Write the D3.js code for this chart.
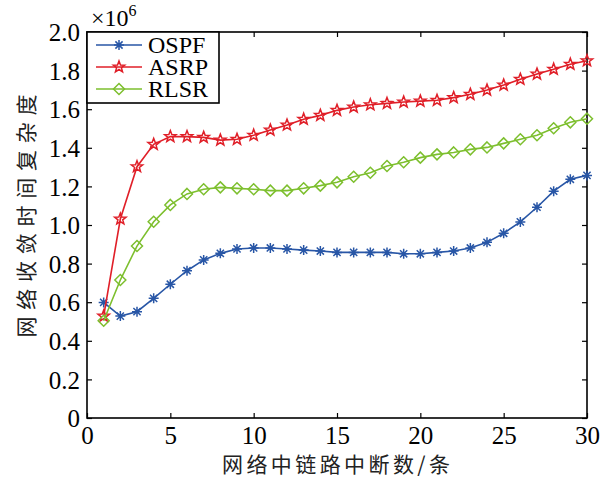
<!DOCTYPE html>
<html><head><meta charset="utf-8">
<script src="https://cdn.jsdelivr.net/npm/d3@7"></script>
<style>html,body{margin:0;padding:0;background:#fff;}svg{display:block;}</style>
</head><body>
<svg id="chart" width="610" height="479"></svg>
<script>
const xs = d3.range(1, 31);
const ospf = [0.599,0.528,0.551,0.620,0.693,0.763,0.819,0.853,0.876,0.881,0.881,0.876,0.870,0.865,0.858,0.858,0.858,0.858,0.851,0.851,0.858,0.865,0.881,0.910,0.957,1.016,1.092,1.175,1.237,1.257];
const asrp = [0.528,1.031,1.302,1.418,1.458,1.458,1.454,1.440,1.444,1.465,1.492,1.518,1.548,1.568,1.594,1.611,1.623,1.630,1.637,1.642,1.646,1.660,1.677,1.699,1.725,1.755,1.782,1.807,1.833,1.851];
const rlsr = [0.504,0.715,0.891,1.017,1.104,1.161,1.185,1.195,1.190,1.185,1.178,1.178,1.190,1.204,1.221,1.250,1.271,1.306,1.325,1.349,1.366,1.376,1.392,1.402,1.423,1.444,1.465,1.501,1.532,1.551];
const seriesNames = ["OSPF","ASRP","RLSR"];
const seriesColors = ["#2856a6","#e01f28","#7dbf2e"];
const xTicks = [0,5,10,15,20,25,30];
const yTicks = [0,0.2,0.4,0.6,0.8,1.0,1.2,1.4,1.6,1.8,2.0];
const xLabel = "网络中链路中断数/条";
const yLabel = "网络收敛时间复杂度";

const svg = d3.select("#chart");
const L = 87, R = 587, T = 32, B = 418;
const x = d3.scaleLinear().domain([0,30]).range([L,R]);
const y = d3.scaleLinear().domain([0,2]).range([B,T]);
const serif = "'Liberation Serif','Times New Roman',serif";
const cjk = "'Noto Sans CJK SC',sans-serif";

// custom markers
const asteriskSym = {draw(ctx, size){ const r = Math.sqrt(size)/2; const d = r*0.72;
  ctx.moveTo(-r,0); ctx.lineTo(r,0); ctx.moveTo(0,-r); ctx.lineTo(0,r);
  ctx.moveTo(-d,-d); ctx.lineTo(d,d); ctx.moveTo(-d,d); ctx.lineTo(d,-d);}};
const diamondSym = {draw(ctx, size){ const r = Math.sqrt(size)/2;
  ctx.moveTo(0,-r); ctx.lineTo(r,0); ctx.lineTo(0,r); ctx.lineTo(-r,0); ctx.closePath();}};
const starSym = {draw(ctx, size){ const r = Math.sqrt(size)/2, ri = r*0.42;
  for (let i=0;i<10;i++){ const a = -Math.PI/2 + i*Math.PI/5; const rr = i%2? ri : r;
    const px = rr*Math.cos(a), py = rr*Math.sin(a); if(i===0) ctx.moveTo(px,py); else ctx.lineTo(px,py);} ctx.closePath();}};
const markerTypes = [asteriskSym, starSym, diamondSym];
const markerSizes = [100, 144, 121];
const data = [ospf, asrp, rlsr];

// axes with inward ticks
const fmtY = v => v===0 ? "0" : d3.format(".1f")(v);
const gx = svg.append("g").attr("transform",`translate(0,${B})`)
  .call(d3.axisBottom(x).tickValues(xTicks).tickSize(-5).tickSizeOuter(0).tickPadding(8).tickFormat(d3.format("d")));
const gxt = svg.append("g").attr("transform",`translate(0,${T})`)
  .call(d3.axisTop(x).tickValues(xTicks).tickSize(-5).tickSizeOuter(0).tickFormat(""));
const gy = svg.append("g").attr("transform",`translate(${L},0)`)
  .call(d3.axisLeft(y).tickValues(yTicks).tickSize(-5).tickSizeOuter(0).tickPadding(7).tickFormat(fmtY));
const gyr = svg.append("g").attr("transform",`translate(${R},0)`)
  .call(d3.axisRight(y).tickValues(yTicks).tickSize(-5).tickSizeOuter(0).tickFormat(""));
[gx,gxt,gy,gyr].forEach(g=>{ g.select(".domain").remove();
  g.attr("font-family",null).attr("font-size",null);
  g.selectAll("line").attr("stroke","#000").attr("stroke-width",1.2);
  g.selectAll("text").style("font-family",serif).style("font-size","25px").attr("fill","#000");});
gx.selectAll("text").attr("dy","0.72em");
gy.selectAll("text").attr("dy","0.35em");

// frame
svg.append("rect").attr("x",L).attr("y",T).attr("width",R-L).attr("height",B-T)
  .attr("fill","none").attr("stroke","#000").attr("stroke-width",1.6);

// series
const line = d3.line().x((d,i)=>x(xs[i])).y(d=>y(d));
data.forEach((vals,k)=>{
  svg.append("path").datum(vals).attr("d",line).attr("fill","none")
    .attr("stroke",seriesColors[k]).attr("stroke-width",1.6);
  svg.append("g").selectAll("path").data(vals).join("path")
    .attr("transform",(d,i)=>`translate(${x(xs[i])},${y(d)})`)
    .attr("d",d3.symbol().type(markerTypes[k]).size(markerSizes[k]))
    .attr("fill", "none").attr("stroke",seriesColors[k]).attr("stroke-width",1.5);
});

// exponent label
const ex = svg.append("text").attr("x",91).attr("y",26).style("font-family",serif).style("font-size","24px").attr("fill","#000");
ex.append("tspan").text("×10");
ex.append("tspan").attr("dy",-10).style("font-size","16px").text("6");

// legend
const lg = svg.append("g");
lg.append("rect").attr("x",87).attr("y",32).attr("width",132).attr("height",71)
  .attr("fill","#fff").attr("stroke","#000").attr("stroke-width",1.6);
seriesNames.forEach((n,k)=>{
  const yy = 45 + k*22;
  lg.append("line").attr("x1",96).attr("x2",142).attr("y1",yy).attr("y2",yy)
    .attr("stroke",seriesColors[k]).attr("stroke-width",1.6);
  lg.append("path").attr("transform",`translate(119,${yy})`)
    .attr("d",d3.symbol().type(markerTypes[k]).size(markerSizes[k]))
    .attr("fill","none").attr("stroke",seriesColors[k]).attr("stroke-width",1.5);
  lg.append("text").attr("x",148).attr("y",yy).attr("dy","0.35em")
    .style("font-family",serif).style("font-size","24px").attr("fill","#000").text(n);
});

// axis titles
svg.append("text").attr("x",(222+450)/2).attr("y",465).attr("dy","0.35em").attr("text-anchor","middle")
  .style("font-family",cjk).style("font-size","21px").attr("fill","#222")
  .attr("textLength",228).attr("lengthAdjust","spacing").text(xLabel);
svg.append("text").attr("transform","translate(27,216) rotate(-90)").attr("dy","0.35em").attr("text-anchor","middle")
  .style("font-family",cjk).style("font-size","21px").attr("fill","#222")
  .attr("textLength",243).attr("lengthAdjust","spacing").text(yLabel);
</script>
</body></html>
